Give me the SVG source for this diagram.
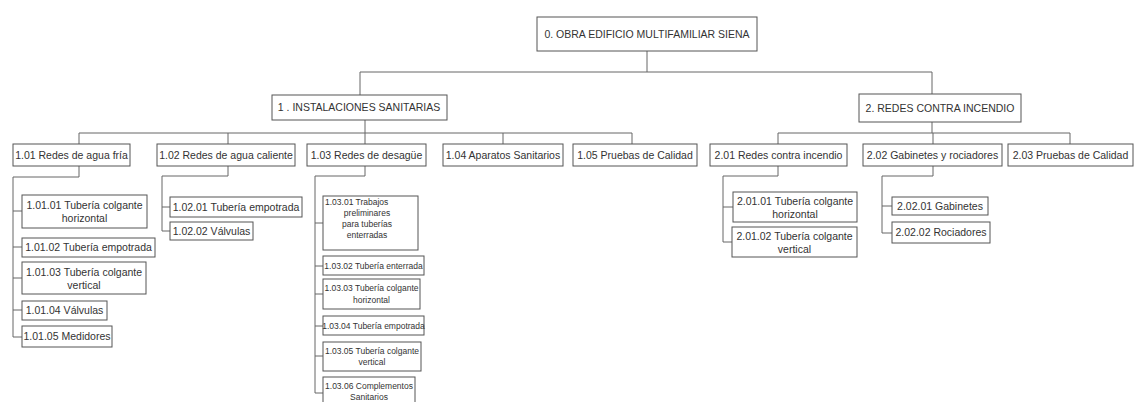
<svg xmlns="http://www.w3.org/2000/svg" width="1134" height="402" viewBox="0 0 1134 402">
<style>
rect{fill:#fff;stroke:#555;stroke-width:1}
text{font-family:"Liberation Sans",Arial,sans-serif;font-size:10.5px;fill:#333;text-anchor:middle}
.s{font-size:8.5px}
.t{font-size:8.5px}
.st{text-anchor:start}
#connectors path{fill:none;stroke:#666;stroke-width:1}
</style>
<rect x="0" y="0" width="1134" height="402" style="fill:#fff;stroke:none"/>
<g id="connectors">
<path d="M647 51V72M360 72H932M360 72V95M932 72V94"/>
<path d="M365 120V133M79 133H632M79 133V144M228 133V144M365 133V144M503 133V144M632 133V144"/>
<path d="M932 122V133M778 133H1070M778 133V144M933 133V144M1070 133V144"/>
<path d="M79 166V177H13V337M13 211H22M13 247H22M13 278H22M13 310H22M13 337H22"/>
<path d="M228 166V176H162V231M162 207H170M162 231H170"/>
<path d="M365 166V176H315V393M315 223H323M315 266H323M315 294H323M315 326H323M315 356H323M315 393H323"/>
<path d="M778 166V176H723V242M723 207H733M723 242H732"/>
<path d="M933 166V176H882V233M882 206H892M882 233H892"/>
</g>
<g id="n0"><rect x="537" y="17" width="220" height="34"/><text x="647" y="38">0. OBRA EDIFICIO MULTIFAMILIAR SIENA</text></g>
<g id="n1"><rect x="272" y="95" width="175" height="25"/><text x="359" y="111">1 . INSTALACIONES SANITARIAS</text></g>
<g id="n2"><rect x="859" y="94" width="162" height="28"/><text x="940" y="112">2. REDES CONTRA INCENDIO</text></g>
<g id="n101"><rect x="13" y="144" width="117" height="22"/><text x="71.5" y="159">1.01 Redes de agua fría</text></g>
<g id="n102"><rect x="157" y="144" width="138" height="22"/><text x="226" y="159">1.02 Redes de agua caliente</text></g>
<g id="n103"><rect x="307" y="144" width="119" height="22"/><text x="366.5" y="159">1.03 Redes de desagüe</text></g>
<g id="n104"><rect x="443" y="144" width="120" height="22"/><text x="503" y="159">1.04 Aparatos Sanitarios</text></g>
<g id="n105"><rect x="573" y="144" width="124" height="22"/><text x="635" y="159">1.05 Pruebas de Calidad</text></g>
<g id="n201"><rect x="710" y="144" width="137" height="22"/><text x="778.5" y="159">2.01 Redes contra incendio</text></g>
<g id="n202"><rect x="863" y="144" width="139" height="22"/><text x="932.5" y="159">2.02 Gabinetes y rociadores</text></g>
<g id="n203"><rect x="1008" y="144" width="125" height="22"/><text x="1070.5" y="159">2.03 Pruebas de Calidad</text></g>
<g id="n10101"><rect x="22" y="195" width="125" height="33"/><text x="84.5" y="209">1.01.01 Tubería colgante</text><text x="84.5" y="222">horizontal</text></g>
<g id="n10102"><rect x="22" y="238" width="133" height="19"/><text x="88.5" y="251">1.01.02 Tubería empotrada</text></g>
<g id="n10103"><rect x="22" y="262" width="124" height="32"/><text x="84" y="276">1.01.03 Tubería colgante</text><text x="84" y="289">vertical</text></g>
<g id="n10104"><rect x="22" y="301" width="85" height="19"/><text x="64.5" y="314">1.01.04 Válvulas</text></g>
<g id="n10105"><rect x="22" y="326" width="90" height="21"/><text x="67" y="340">1.01.05 Medidores</text></g>
<g id="n10201"><rect x="170" y="197" width="132" height="20"/><text x="236" y="210.5">1.02.01 Tubería empotrada</text></g>
<g id="n10202"><rect x="170" y="222" width="83" height="18"/><text x="211.5" y="234.5">1.02.02 Válvulas</text></g>
<g id="n10301"><rect x="323" y="196" width="95" height="54"/><text class="t st" x="325" y="205">1.03.01 Trabajos</text><text class="t" x="367" y="216">preliminares</text><text class="t" x="367" y="227">para tuberías</text><text class="t" x="367" y="238">enterradas</text></g>
<g id="n10302"><rect x="323" y="256" width="101" height="19"/><text class="s" x="373.5" y="268.5">1.03.02 Tubería enterrada</text></g>
<g id="n10303"><rect x="323" y="279" width="97" height="30"/><text class="s" x="371.5" y="291">1.03.03 Tubería colgante</text><text class="s" x="371.5" y="303">horizontal</text></g>
<g id="n10304"><rect x="323" y="316" width="101" height="19"/><text class="s" x="373.5" y="328.5">1.03.04 Tubería empotrada</text></g>
<g id="n10305"><rect x="323" y="342" width="98" height="29"/><text class="s" x="372" y="354">1.03.05 Tubería colgante</text><text class="s" x="372" y="365">vertical</text></g>
<g id="n10306"><rect x="323" y="377" width="92" height="30"/><text class="s" x="369" y="389">1.03.06 Complementos</text><text class="s" x="369" y="400">Sanitarios</text></g>
<g id="n20101"><rect x="733" y="192" width="124" height="30"/><text x="795" y="205">2.01.01 Tubería colgante</text><text x="795" y="218">horizontal</text></g>
<g id="n20102"><rect x="732" y="227" width="125" height="30"/><text x="794.5" y="240">2.01.02 Tubería colgante</text><text x="794.5" y="253">vertical</text></g>
<g id="n20201"><rect x="892" y="197" width="96" height="18"/><text x="940" y="209.5">2.02.01 Gabinetes</text></g>
<g id="n20202"><rect x="892" y="222" width="98" height="21"/><text x="941" y="236">2.02.02 Rociadores</text></g>
</svg>
